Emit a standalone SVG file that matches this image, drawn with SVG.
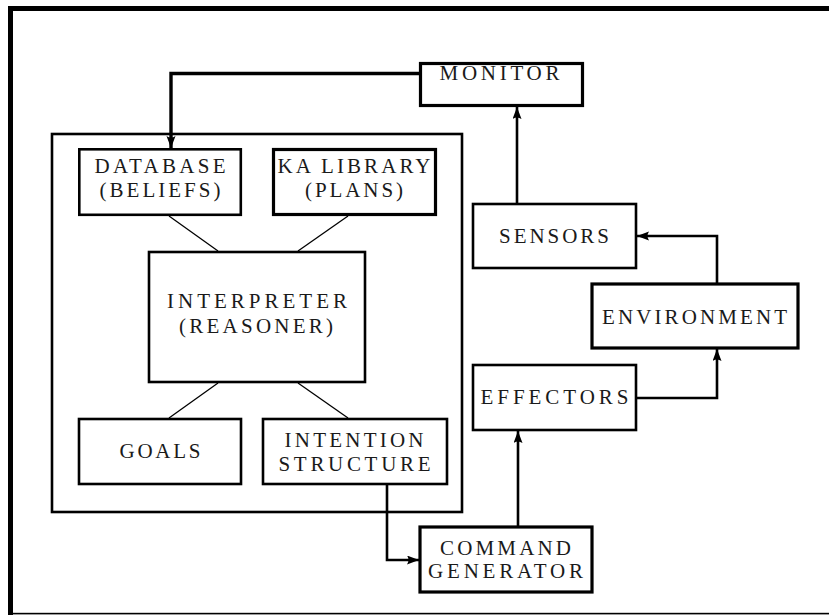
<svg xmlns="http://www.w3.org/2000/svg" width="829" height="615" viewBox="0 0 829 615">
  <style>
    .box { fill: #fff; stroke: #000; stroke-width: 2.6; }
    .frame-box { fill: none; stroke: #000; stroke-width: 2.6; }
    .heavy { stroke-width: 3.2; }
    .lbl { font-family: "Liberation Serif", "DejaVu Serif", serif; font-size: 21px; fill: #1a1a1a; text-anchor: middle; }
    .link { fill: none; stroke: #000; stroke-width: 1.3; }
    .flow { fill: none; stroke: #000; stroke-width: 2.6; }
    .bold { stroke-width: 3.4; }
  </style>
  <defs>
    <marker id="arrow" markerUnits="userSpaceOnUse" markerWidth="13" markerHeight="10" refX="12" refY="4.5" orient="auto">
      <path d="M0,0 L12,4.5 L0,9 Q3,4.5 0,0 Z" fill="#000"/>
    </marker>
  </defs>

  <!-- page frame -->
  <g id="frame" fill="#000">
    <rect x="8" y="6" width="821" height="5"/>
    <rect x="8" y="6" width="5" height="609"/>
    <rect x="13" y="612.8" width="816" height="1.6"/>
  </g>

  <!-- agent boundary -->
  <g id="agent">
    <rect class="frame-box" x="52" y="134" width="410" height="378"/>
  </g>

  <g id="monitor">
    <rect class="box heavy" x="420.5" y="63.5" width="162" height="42"/>
    <text class="lbl" x="499.5" y="80" textLength="120" lengthAdjust="spacing">MONITOR</text>
  </g>

  <g id="database">
    <rect class="box" x="79.3" y="149.3" width="161.5" height="65.5"/>
    <text class="lbl" x="160" y="173" textLength="131" lengthAdjust="spacing">DATABASE</text>
    <text class="lbl" x="160" y="197" textLength="121" lengthAdjust="spacing">(BELIEFS)</text>
  </g>

  <g id="ka-library">
    <rect class="box heavy" x="273.5" y="149.5" width="162" height="65"/>
    <text class="lbl" x="354" y="173" textLength="153" lengthAdjust="spacing">KA LIBRARY</text>
    <text class="lbl" x="354" y="197" textLength="98" lengthAdjust="spacing">(PLANS)</text>
  </g>

  <g id="interpreter">
    <rect class="box" x="149" y="252" width="216" height="130"/>
    <text class="lbl" x="257" y="308" textLength="180" lengthAdjust="spacing">INTERPRETER</text>
    <text class="lbl" x="256" y="333" textLength="154" lengthAdjust="spacing">(REASONER)</text>
  </g>

  <g id="goals">
    <rect class="box" x="79" y="419" width="162" height="65"/>
    <text class="lbl" x="160" y="458" textLength="81" lengthAdjust="spacing">GOALS</text>
  </g>

  <g id="intention-structure">
    <rect class="box" x="263" y="419" width="184" height="65"/>
    <text class="lbl" x="354" y="447" textLength="139" lengthAdjust="spacing">INTENTION</text>
    <text class="lbl" x="354.5" y="471" textLength="152" lengthAdjust="spacing">STRUCTURE</text>
  </g>

  <g id="sensors">
    <rect class="box" x="473" y="204" width="163" height="64"/>
    <text class="lbl" x="554" y="243" textLength="110" lengthAdjust="spacing">SENSORS</text>
  </g>

  <g id="environment">
    <rect class="box heavy" x="592" y="284" width="206" height="64"/>
    <text class="lbl" x="694.5" y="324" textLength="185" lengthAdjust="spacing">ENVIRONMENT</text>
  </g>

  <g id="effectors">
    <rect class="box" x="473" y="365" width="163" height="65"/>
    <text class="lbl" x="554.5" y="404" textLength="148" lengthAdjust="spacing">EFFECTORS</text>
  </g>

  <g id="command-generator">
    <rect class="box heavy" x="420" y="527" width="172" height="65"/>
    <text class="lbl" x="505.5" y="555" textLength="131" lengthAdjust="spacing">COMMAND</text>
    <text class="lbl" x="505.5" y="578" textLength="155" lengthAdjust="spacing">GENERATOR</text>
  </g>

  <!-- connectors -->
  <g id="connectors">
    <path class="flow bold" d="M419,73.5 H171 V148" marker-end="url(#arrow)"/>
    <path class="flow" d="M517,203 V107" marker-end="url(#arrow)"/>
    <path class="flow" d="M717,283 V236 H637" marker-end="url(#arrow)"/>
    <path class="flow" d="M637,398 H717 V349" marker-end="url(#arrow)"/>
    <path class="flow" d="M518,526 V431" marker-end="url(#arrow)"/>
    <path class="flow" d="M387,485 V560 H419" marker-end="url(#arrow)"/>
    <line class="link" x1="169" y1="216" x2="218" y2="251"/>
    <line class="link" x1="348" y1="216" x2="298" y2="251"/>
    <line class="link" x1="218" y1="383" x2="169" y2="418"/>
    <line class="link" x1="298" y1="383" x2="348" y2="418"/>
  </g>
</svg>
